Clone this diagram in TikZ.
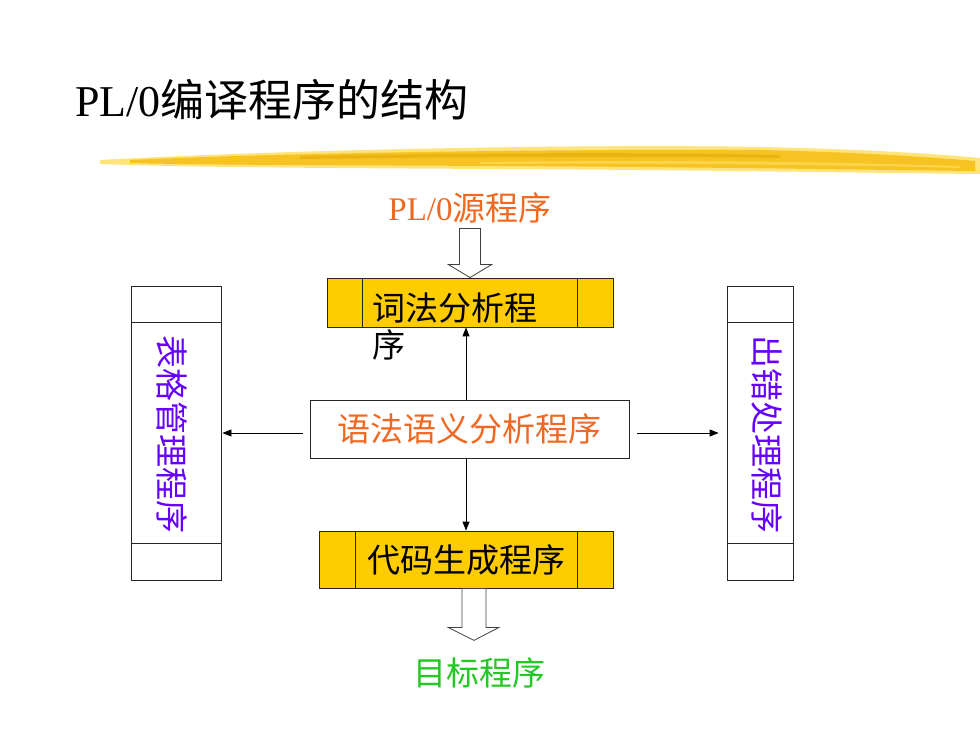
\documentclass[tikz,border=0pt]{standalone}
\usepackage{fontspec}
\setmainfont{Liberation Serif}
\newfontfamily\cjk{Noto Sans CJK SC}
\usetikzlibrary{arrows.meta,calc}
\definecolor{gold}{RGB}{255,204,0}
\definecolor{orangetxt}{RGB}{240,105,35}
\definecolor{greentxt}{RGB}{35,200,35}
\definecolor{purpletxt}{RGB}{102,0,255}
\definecolor{brushA}{RGB}{245,190,20}
\definecolor{brushB}{RGB}{255,220,90}
\definecolor{brushC}{RGB}{225,165,0}
\begin{document}
\begin{tikzpicture}[x=1pt,y=-1pt,
  boxline/.style={draw=black!85,line width=0.8pt},
  goldbox/.style={boxline,fill=gold,inner sep=0pt},
  plainbox/.style={boxline,fill=white,inner sep=0pt},
  lbl/.style={font=\cjk\fontsize{33}{37}\selectfont,inner sep=0pt},
  thinarrow/.style={draw=black,line width=0.8pt,-{Triangle[length=9pt,width=7pt]}},
  hollow/.style={draw=black!75,line width=0.8pt,fill=white}]
\useasboundingbox (0,0) rectangle (980,735);
\fill[white] (0,0) rectangle (980,735);

% title
\node[anchor=west,inner sep=0pt] (title) at (75,100)
  {\fontsize{44}{44}\selectfont PL/0{\cjk 编译程序的结构}};

% brush stroke
\fill[brushB,opacity=0.8] (100,160) .. controls (300,149) and (600,144) .. (760,147)
  .. controls (860,149) and (940,154) .. (980,158) -- (980,174)
  .. controls (880,173) and (700,170) .. (500,169) .. controls (300,168) and (180,167) .. (100,164) -- cycle;
\fill[brushA,opacity=0.85] (130,160) .. controls (300,152) and (600,149) .. (760,150)
  .. controls (860,152) and (940,158) .. (975,161) -- (975,171)
  .. controls (880,170) and (700,167) .. (500,166) .. controls (300,165) and (200,165) .. (130,163) -- cycle;
\fill[brushC,opacity=0.5] (300,156) .. controls (450,153) and (650,152) .. (780,155)
  -- (780,158) .. controls (650,156) and (450,157) .. (300,159) -- cycle;
\fill[brushB,opacity=0.7] (480,162) .. controls (650,160) and (800,161) .. (960,166)
  -- (960,168) .. controls (800,164) and (650,163) .. (480,164) -- cycle;

% source label
\node[font=\fontsize{33}{33}\selectfont,text=orangetxt,inner sep=0pt] (src) at (470,208)
  {PL/0{\cjk 源程序}};

% lexical analyser
\node[goldbox,minimum width=286pt,minimum height=49pt] (lex) at (470,302.5) {};
\draw[boxline] ($(lex.north west)+(36,0)$) -- ($(lex.south west)+(36,0)$);
\draw[boxline] ($(lex.north east)+(-36,0)$) -- ($(lex.south east)+(-36,0)$);
\node[lbl,align=left,anchor=west] (lexT) at (372,326.5) {词法分析程\\序};

% syntax/semantic analyser
\node[plainbox,minimum width=319pt,minimum height=58pt,text=orangetxt,
  font=\cjk\fontsize{33}{33}\selectfont] (sem) at (469.5,429) {语法语义分析程序};

% code generator
\node[goldbox,minimum width=294pt,minimum height=57pt,
  font=\cjk\fontsize{33}{33}\selectfont] (code) at (466,559.5) {代码生成程序};
\draw[boxline] ($(code.north west)+(37,0)$) -- ($(code.south west)+(37,0)$);
\draw[boxline] ($(code.north east)+(-36,0)$) -- ($(code.south east)+(-36,0)$);

% target label
\node[lbl,text=greentxt] (tgt) at (479,673) {目标程序};

% table manager
\node[plainbox,minimum width=90pt,minimum height=294pt] (tab) at (176,433) {};
\draw[boxline] ($(tab.north west)+(0,37)$) -- ($(tab.north east)+(0,37)$);
\draw[boxline] ($(tab.south west)+(0,-37)$) -- ($(tab.south east)+(0,-37)$);
\node[lbl,text=purpletxt,rotate=-90] (tabT) at (172,434.5) {表格管理程序};

% error handler
\node[plainbox,minimum width=66pt,minimum height=294pt] (err) at (760,433) {};
\draw[boxline] ($(err.north west)+(0,37)$) -- ($(err.north east)+(0,37)$);
\draw[boxline] ($(err.south west)+(0,-37)$) -- ($(err.south east)+(0,-37)$);
\node[lbl,text=purpletxt,rotate=-90] (errT) at (767,434.5) {出错处理程序};

% hollow arrows
\draw[hollow] ($(lex.north)+(-10.5,-49)$) -- ($(lex.north)+(10.5,-49)$)
  -- ($(lex.north)+(10.5,-13)$) -- ($(lex.north)+(21.5,-13)$) -- (lex.north)
  -- ($(lex.north)+(-21.5,-13)$) -- ($(lex.north)+(-10.5,-13)$) -- cycle;
\coordinate (outTip) at ($(code.south)+(8,52)$);
\draw[hollow] ($(outTip)+(-12,-52)$) -- ($(outTip)+(12,-52)$)
  -- ($(outTip)+(12,-13)$) -- ($(outTip)+(25,-13)$) -- (outTip)
  -- ($(outTip)+(-26,-13)$) -- ($(outTip)+(-12,-13)$) -- cycle;

% thin arrows
\draw[thinarrow] (code.north |- sem.north) -- (code.north |- lex.south);
\draw[thinarrow] (code.north |- sem.south) -- (code.north);
\draw[thinarrow] ($(sem.west |- tab.east)+(-7,0)$) -- ($(tab.east)+(1,0)$);
\draw[thinarrow] ($(sem.east |- err.west)+(8,0)$) -- ($(err.west)+(-8,0)$);
\end{tikzpicture}
\end{document}
